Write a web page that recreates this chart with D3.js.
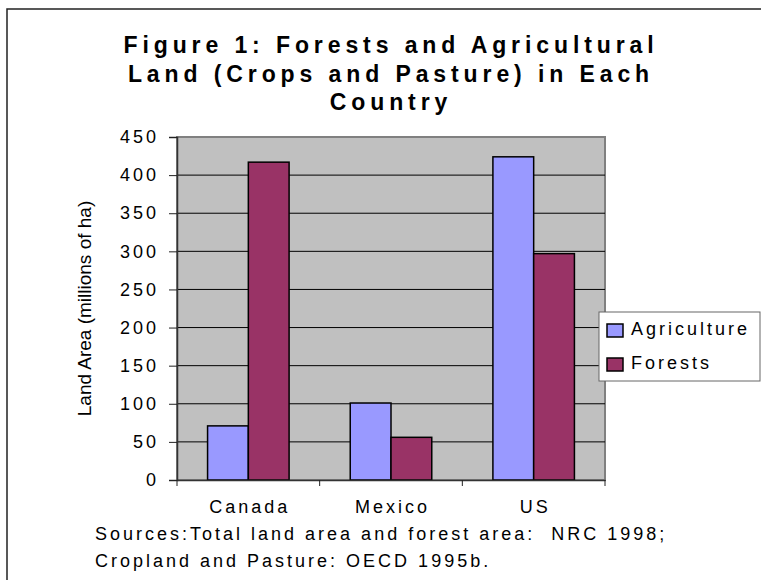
<!DOCTYPE html>
<html>
<head>
<meta charset="utf-8">
<script src="https://cdn.jsdelivr.net/npm/d3@7"></script>
<style>
  body { margin: 0; background: white; }
  svg { display: block; font-family: "Liberation Sans", Arial, sans-serif; }
</style>
</head>
<body>
<div id="container"></div>
<script>
const countries = ["Canada", "Mexico", "US"];
const series = ["Agriculture", "Forests"];
const agriculture = [71, 101, 424];
const forests = [417, 56, 297];
const yTicks = [0, 50, 100, 150, 200, 250, 300, 350, 400, 450];
const titleLines = [
  "Figure 1: Forests and Agricultural",
  "Land (Crops and Pasture) in Each",
  "Country",
];
const sourceLines = [
  "Sources:Total land area and forest area:  NRC 1998;",
  "Cropland and Pasture: OECD 1995b.",
];
const colors = ["#9999FF", "#993366"];

const w = 761;
const h = 580;
const plot = { left: 177, right: 605, top: 137, bottom: 480 };

const svg = d3
  .select("#container")
  .append("svg")
  .attr("width", w)
  .attr("height", h)
  .attr("viewBox", `0 0 ${w} ${h}`);

// outer frame (right and bottom edges fall outside the picture)
svg
  .append("rect")
  .attr("x", 7)
  .attr("y", 9)
  .attr("width", 900)
  .attr("height", 900)
  .attr("fill", "white")
  .attr("stroke", "#222")
  .attr("stroke-width", 1.5);

// title
svg
  .append("g")
  .selectAll("text")
  .data(titleLines)
  .enter()
  .append("text")
  .attr("x", 391)
  .attr("y", (d, i) => 53 + i * 28.5)
  .attr("text-anchor", "middle")
  .attr("font-size", 23)
  .attr("font-weight", "bold")
  .attr("letter-spacing", 4.9)
  .text((d) => d);

const xScale = d3
  .scaleBand()
  .domain(countries)
  .range([plot.left, plot.right]);

const x1 = d3
  .scaleBand()
  .domain(series)
  .range([0, xScale.bandwidth()])
  .paddingOuter(0.75);

const yScale = d3
  .scaleLinear()
  .domain([0, 450])
  .range([plot.bottom, plot.top]);

// plot background
svg
  .append("rect")
  .attr("x", plot.left)
  .attr("y", plot.top)
  .attr("width", plot.right - plot.left)
  .attr("height", plot.bottom - plot.top)
  .attr("fill", "#C0C0C0")
  .attr("stroke", "#808080")
  .attr("stroke-width", 2);

// gridlines
svg
  .append("g")
  .selectAll("line")
  .data(yTicks.slice(1, -1))
  .enter()
  .append("line")
  .attr("x1", plot.left)
  .attr("x2", plot.right)
  .attr("y1", (d) => yScale(d))
  .attr("y2", (d) => yScale(d))
  .attr("stroke", "black")
  .attr("stroke-width", 1);

// bars
const rows = countries.map((c, i) => [agriculture[i], forests[i]]);
svg
  .append("g")
  .selectAll("g")
  .data(rows)
  .enter()
  .append("g")
  .attr("transform", (d, i) => `translate(${xScale(countries[i])},0)`)
  .selectAll("rect")
  .data((d) => d)
  .enter()
  .append("rect")
  .attr("x", (d, j) => x1(series[j]))
  .attr("width", x1.bandwidth())
  .attr("y", (d) => yScale(d))
  .attr("height", (d) => yScale(0) - yScale(d))
  .attr("fill", (d, j) => colors[j])
  .attr("stroke", "black")
  .attr("stroke-width", 1.5);

// y axis
const yAxis = d3
  .axisLeft(yScale)
  .tickValues(yTicks)
  .tickSize(8)
  .tickPadding(13);

const yG = svg
  .append("g")
  .attr("transform", `translate(${plot.left},0)`)
  .call(yAxis);
yG.select(".domain").attr("stroke", "#333").attr("stroke-width", 1.5);
yG.selectAll(".tick line").attr("stroke", "#222");
yG.selectAll(".tick text")
  .attr("font-size", 18)
  .attr("letter-spacing", 3)
  .attr("dx", 3)
  .attr("fill", "black")
  .attr("font-family", "Liberation Sans, Arial, sans-serif");

// x axis
const xAxis = d3.axisBottom(xScale).tickSize(0).tickPadding(20);
const xG = svg
  .append("g")
  .attr("transform", `translate(0,${plot.bottom})`)
  .call(xAxis);
xG.select(".domain").attr("stroke", "#333").attr("stroke-width", 1.5);
xG.selectAll(".tick text")
  .attr("font-size", 18)
  .attr("letter-spacing", 3)
  .attr("dx", 1.5)
  .attr("fill", "black")
  .attr("font-family", "Liberation Sans, Arial, sans-serif");

// category boundary ticks
svg
  .append("g")
  .selectAll("line")
  .data(countries.map((c) => xScale(c)).concat([plot.right]))
  .enter()
  .append("line")
  .attr("x1", (d) => d)
  .attr("x2", (d) => d)
  .attr("y1", plot.bottom)
  .attr("y2", plot.bottom + 6)
  .attr("stroke", "#222");

// y label
svg
  .append("text")
  .attr("transform", `translate(91, ${(plot.top + plot.bottom) / 2}) rotate(-90)`)
  .attr("text-anchor", "middle")
  .attr("font-size", 19)
  .text("Land Area (millions of ha)");

// legend
const legend = svg.append("g").attr("transform", "translate(599, 312)");
legend
  .append("rect")
  .attr("width", 161)
  .attr("height", 69)
  .attr("fill", "white")
  .attr("stroke", "#666")
  .attr("stroke-width", 1);

legend
  .selectAll("rect.sw")
  .data(series)
  .enter()
  .append("rect")
  .attr("class", "sw")
  .attr("x", 8)
  .attr("y", (d, i) => 12 + i * 34)
  .attr("width", 16)
  .attr("height", 13)
  .attr("fill", (d, i) => colors[i])
  .attr("stroke", "black")
  .attr("stroke-width", 1.5);

legend
  .selectAll("text")
  .data(series)
  .enter()
  .append("text")
  .attr("x", 32)
  .attr("y", (d, i) => 23 + i * 34)
  .attr("font-size", 18)
  .attr("letter-spacing", 3)
  .text((d) => d);

// sources
svg
  .append("g")
  .selectAll("text")
  .data(sourceLines)
  .enter()
  .append("text")
  .attr("x", 95)
  .attr("y", (d, i) => 540 + i * 27)
  .attr("font-size", 18)
  .attr("letter-spacing", 3.0)
  .style("white-space", "pre")
  .text((d) => d);
</script>
</body>
</html>
